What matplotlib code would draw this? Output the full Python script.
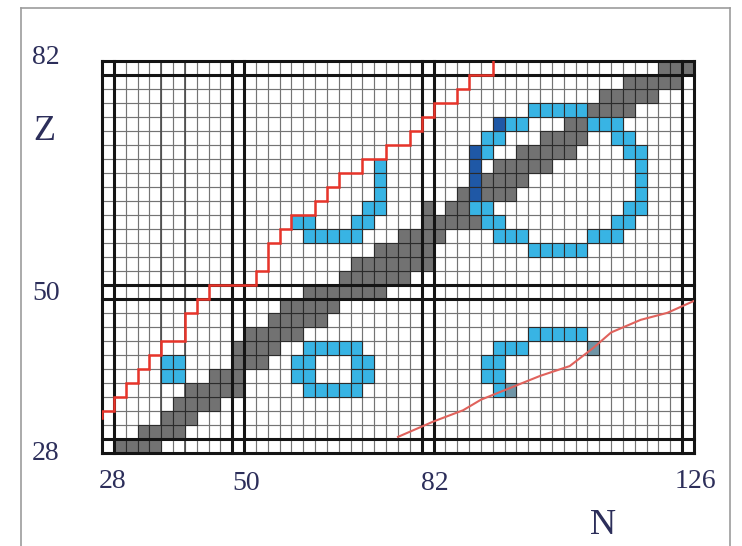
import numpy as np
import matplotlib
matplotlib.use("Agg")
import matplotlib.pyplot as plt
from matplotlib.lines import Line2D

# even-even stable nuclei, one row per Z (first and last N)
stable_Z = [28, 30, 32, 34, 36, 38, 40, 42, 44, 46, 48, 50, 52, 54,
            56, 58, 60, 62, 64, 66, 68, 70, 72, 74, 76, 78, 80, 82]
stable_N_first = [30, 34, 38, 40, 42, 46, 50, 50, 52, 56, 58, 62, 68, 70,
                  74, 78, 82, 86, 88, 90, 94, 98, 102, 106, 108, 112, 116, 122]
stable_N_last = [36, 40, 42, 46, 50, 50, 54, 56, 60, 64, 66, 74, 78, 82,
                 82, 84, 90, 92, 96, 98, 102, 106, 108, 112, 116, 120, 124, 126]
stable_extra_N = [82]
stable_extra_Z = [62]

# blue cells, one segment per row piece
blue_Z = [38, 40,
          42, 40, 40, 38, 38, 36,
          68, 66, 64, 62, 60, 60, 58,
          44, 42, 40, 38, 36,
          76, 74, 74, 72, 72, 70, 70, 68, 66, 64, 62, 62, 60, 60, 58, 58, 56]
blue_N_from = [38, 38,
               62, 60, 70, 60, 70, 62,
               74, 74, 74, 72, 70, 60, 62,
               100, 94, 92, 92, 94,
               100, 96, 110, 92, 114, 92, 116, 118, 118, 118, 90, 116, 92, 114, 94, 110, 100]
blue_N_to = [40, 40,
             70, 62, 72, 62, 72, 70,
             74, 74, 74, 74, 72, 62, 70,
             108, 98, 94, 94, 94,
             108, 98, 114, 94, 116, 92, 118, 118, 118, 118, 92, 118, 94, 116, 98, 114, 108]

dark_blue_N = [94, 90, 90, 90, 90]
dark_blue_Z = [74, 70, 68, 66, 64]

mixed_N = [96, 110]
mixed_Z = [36, 42]

# proton side staircase (corner points)
stair_N = [27, 27, 29, 29, 31, 31, 33, 33, 35, 35, 37, 37, 41, 41, 43, 43, 45, 45,
           53, 53, 55, 55, 57, 57, 59, 59, 63, 63, 65, 65, 67, 67, 71, 71, 75, 75,
           79, 79, 81, 81, 83, 83, 87, 87, 89, 89, 93, 93]
stair_Z = [32, 33, 33, 35, 35, 37, 37, 39, 39, 41, 41, 43, 43, 47, 47, 49, 49, 51,
           51, 53, 53, 57, 57, 59, 59, 61, 61, 63, 63, 65, 65, 67, 67, 69, 69, 71,
           71, 73, 73, 75, 75, 77, 77, 79, 79, 81, 81, 83]

# neutron side curve
curve_N = [77, 83, 88, 91, 96, 101, 106, 110, 113, 118, 122.5, 127]
curve_Z = [29.3, 31.5, 33.1, 34.6, 36.3, 38.0, 39.4, 42.0, 44.2, 46.0, 47.0, 48.7]

magic_N = [28, 50, 82, 126]
magic_Z = [28, 50, 82]

W, H = 742, 546
fig = plt.figure(figsize=(W / 100, H / 100), dpi=100)
ax = fig.add_axes([102 / W, 1 - 453 / H, 592 / W, 392.5 / H])
ax.set_xlim(27, 127)
ax.set_ylim(27, 83)
ax.set_xticks([])
ax.set_yticks([])
for s in ax.spines.values():
    s.set_visible(False)

# fine grid, one line per cell edge
for n in range(27, 128, 2):
    ax.axvline(n, color="#747474", lw=0.85, zorder=1)
for z in range(27, 84, 2):
    ax.axhline(z, color="#747474", lw=0.85, zorder=1)
for n in [37, 41]:
    ax.axvline(n, color="#4a4a4a", lw=1.2, zorder=1)

edge = "#2b2b2b"


def cells(ns, z, color):
    ns = np.atleast_1d(ns)
    ax.bar(ns, 2, width=2, bottom=z - 1, color=color, edgecolor=edge,
           linewidth=0.8, zorder=2)


for z, a, b in zip(stable_Z, stable_N_first, stable_N_last):
    ns = [n for n in range(a, b + 1, 2) if not (z == 62 and n == 84)]
    cells(ns, z, "#727272")
for n, z in zip(stable_extra_N, stable_extra_Z):
    cells(n, z, "#727272")

for z, a, b in zip(blue_Z, blue_N_from, blue_N_to):
    cells(np.arange(a, b + 1, 2), z, "#38b4e4")
for n, z in zip(dark_blue_N, dark_blue_Z):
    cells(n, z, "#1f58a6")
for n, z in zip(mixed_N, mixed_Z):
    cells(n, z, "#6f95a6")

# magic number double lines
for m in magic_N:
    for n in (m - 1, m + 1):
        ax.axvline(n, color="#141414", lw=2.2, zorder=3, clip_on=False)
for m in magic_Z:
    for z in (m - 1, m + 1):
        ax.axhline(z, color="#141414", lw=2.2, zorder=3, clip_on=False)

ax.plot(stair_N, stair_Z, color="#e8342a", lw=1.8, zorder=5,
        solid_joinstyle="miter")
ax.plot(curve_N, curve_Z, color="#e0625c", lw=1.5, zorder=5)

# labels
lab = dict(family="Liberation Serif", color="#2c2e5a", ha="center", va="center")
fig.text(46 / W, 1 - 57 / H, "82", fontsize=20, **lab)
fig.text(44 / W, 1 - 131 / H, "Z", fontsize=26, **lab)
fig.text(46 / W, 1 - 294 / H, "50", fontsize=20, **lab)
fig.text(46 / W, 1 - 453 / H, "28", fontsize=20, **lab)
fig.text(113 / W, 1 - 482 / H, "28", fontsize=20, **lab)
fig.text(246 / W, 1 - 484 / H, "50", fontsize=20, **lab)
fig.text(435 / W, 1 - 484 / H, "82", fontsize=20, **lab)
fig.text(695 / W, 1 - 481 / H, "126", fontsize=20, **lab)
fig.text(603 / W, 1 - 526 / H, "N", fontsize=26, **lab)

# outer frame of the picture
fc = "#9c9c9c"
fig.add_artist(Line2D([21 / W, 21 / W], [0, 1 - 8 / H], color=fc, lw=1.2))
fig.add_artist(Line2D([21 / W, 730 / W], [1 - 8 / H, 1 - 8 / H], color=fc, lw=1.2))
fig.add_artist(Line2D([730 / W, 730 / W], [0, 1 - 8 / H], color=fc, lw=1.2))

fig.savefig("out.png", dpi=100)
